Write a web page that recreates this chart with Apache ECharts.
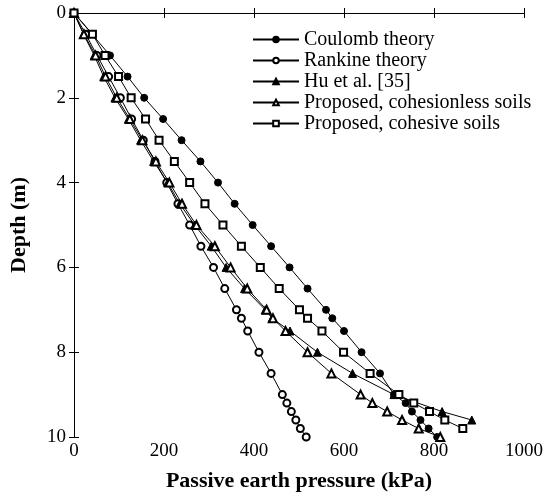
<!DOCTYPE html>
<html>
<head>
<meta charset="utf-8">
<script src="https://cdn.jsdelivr.net/npm/echarts@6/dist/echarts.min.js"></script>
<style>html,body{margin:0;padding:0;background:#fff}#c{width:549px;height:497px}</style>
</head>
<body>
<div id="c"></div>
<script>
// ---- data ----
const xTicks = [0, 200, 400, 600, 800, 1000];
const yTicks = [0, 2, 4, 6, 8, 10];

const depthCoulomb = [0,0.5,1,1.5,2,2.5,3,3.5,4,4.5,5,5.5,6,6.5,7,7.2,7.5,8,8.5,9,9.2,9.4,9.6,9.8,10];
const coulomb      = [0,40,80,119,156,198,239,281,320,357,397,438,479,519,560,574,600,639,680,711,737,751,770,788,807];

const depthRankine = [0,0.5,1,1.5,2,2.5,3,3.5,4,4.5,5,5.5,6,6.5,7,7.2,7.5,8,8.5,9,9.2,9.4,9.6,9.8,10];
const rankine      = [0,26,51,77,103,128,154,180,206,231,257,282,310,335,361,372,386,411,438,463,473,483,493,503,516];

const depthHu = [0,0.5,1,1.5,2,2.5,3,3.5,4,4.5,5,5.5,6,6.5,7,7.2,7.5,8,8.5,9,9.4,9.6];
const hu      = [0,21,45,66,91,121,148,177,208,235,268,305,338,379,425,440,480,541,619,711,818,884];

const depthCohesionless = [0,0.5,1,1.5,2,2.5,3,3.5,4,4.5,5,5.5,6,6.5,7,7.2,7.5,8,8.5,9,9.2,9.4,9.6,9.8,10];
const cohesionless      = [0,22,48,70,95,124,152,182,212,240,272,313,348,385,428,442,470,519,572,637,663,696,729,766,814];

const depthCohesive = [0,0.5,1,1.5,2,2.5,3,3.5,4,4.5,5,5.5,6,6.5,7,7.2,7.5,8,8.5,9,9.2,9.4,9.6,9.8];
const cohesive      = [0,41,69,99,127,159,189,223,257,291,331,372,414,456,501,519,551,599,658,722,755,790,824,864];

const seriesNames = ['Coulomb theory', 'Rankine theory', 'Hu et al. [35]', 'Proposed, cohesionless soils', 'Proposed, cohesive soils'];

// ---- chart ----
const FONT = 'Liberation Serif';
function pairs(xs, ys) { return xs.map((v, i) => [v, ys[i]]); }

const specs = [
  { name: seriesNames[0], data: pairs(coulomb, depthCoulomb), symbol: 'circle', size: 7 },
  { name: seriesNames[1], data: pairs(rankine, depthRankine), symbol: 'emptyCircle', size: 7 },
  { name: seriesNames[2], data: pairs(hu, depthHu), symbol: 'triangle', size: 8 },
  { name: seriesNames[3], data: pairs(cohesionless, depthCohesionless), symbol: 'emptyTriangle', size: 8 },
  { name: seriesNames[4], data: pairs(cohesive, depthCohesive), symbol: 'emptyRect', size: 7 }
];

const mirrorAxisCommon = {
  axisLine: { show: true, lineStyle: { color: '#000', width: 1 } },
  axisTick: { show: true, inside: true, length: 5, lineStyle: { color: '#000' } },
  axisLabel: { show: false },
  splitLine: { show: false }
};

const option = {
  animation: false,
  backgroundColor: '#fff',
  textStyle: { fontFamily: FONT },
  grid: { left: 72, top: 13, right: 25, bottom: 60, containLabel: false },
  legend: {
    orient: 'vertical',
    left: 247,
    top: 24,
    itemWidth: 46,
    itemHeight: 7,
    itemGap: 0,
    data: seriesNames,
    textStyle: { fontFamily: FONT, fontSize: 20, color: '#000', lineHeight: 21 }
  },
  xAxis: [
    {
      type: 'value', position: 'bottom', min: 0, max: 1000, interval: 200,
      name: 'Passive earth pressure (kPa)', nameLocation: 'middle', nameGap: 33,
      nameTextStyle: { fontFamily: FONT, fontSize: 22, fontWeight: 'bold', color: '#000' },
      axisLine: { show: true, lineStyle: { color: '#000', width: 1 } },
      axisTick: { show: true, inside: true, length: 5, lineStyle: { color: '#000' } },
      axisLabel: { fontFamily: FONT, fontSize: 19, color: '#000', margin: 5,
        formatter: v => xTicks.includes(v) ? String(v) : '' },
      splitLine: { show: false }
    },
    Object.assign({ type: 'value', position: 'top', min: 0, max: 1000, interval: 200 }, mirrorAxisCommon)
  ],
  yAxis: [
    {
      type: 'value', position: 'left', inverse: true, min: 0, max: 10, interval: 2,
      name: 'Depth (m)', nameLocation: 'middle', nameGap: 44,
      nameTextStyle: { fontFamily: FONT, fontSize: 22, fontWeight: 'bold', color: '#000' },
      axisLine: { show: true, lineStyle: { color: '#000', width: 1 } },
      axisTick: { show: true, inside: true, length: 5, lineStyle: { color: '#000' } },
      axisLabel: { fontFamily: FONT, fontSize: 19, color: '#000', margin: 8,
        formatter: v => yTicks.includes(v) ? String(v) : '' },
      splitLine: { show: false }
    },
    Object.assign({ type: 'value', position: 'right', inverse: true, min: 0, max: 10, interval: 2 }, mirrorAxisCommon)
  ],
  series: specs.map(s => ({
    type: 'line',
    name: s.name,
    xAxisIndex: 0,
    yAxisIndex: 0,
    data: s.data,
    symbol: s.symbol,
    symbolSize: s.size,
    showAllSymbol: true,
    lineStyle: { color: '#000', width: 1 },
    itemStyle: { color: '#000', borderColor: '#000', borderWidth: 1 },
    emphasis: { disabled: true }
  }))
};

const chart = echarts.init(document.getElementById('c'), null, { renderer: 'canvas' });
chart.setOption(option);
</script>
</body>
</html>
